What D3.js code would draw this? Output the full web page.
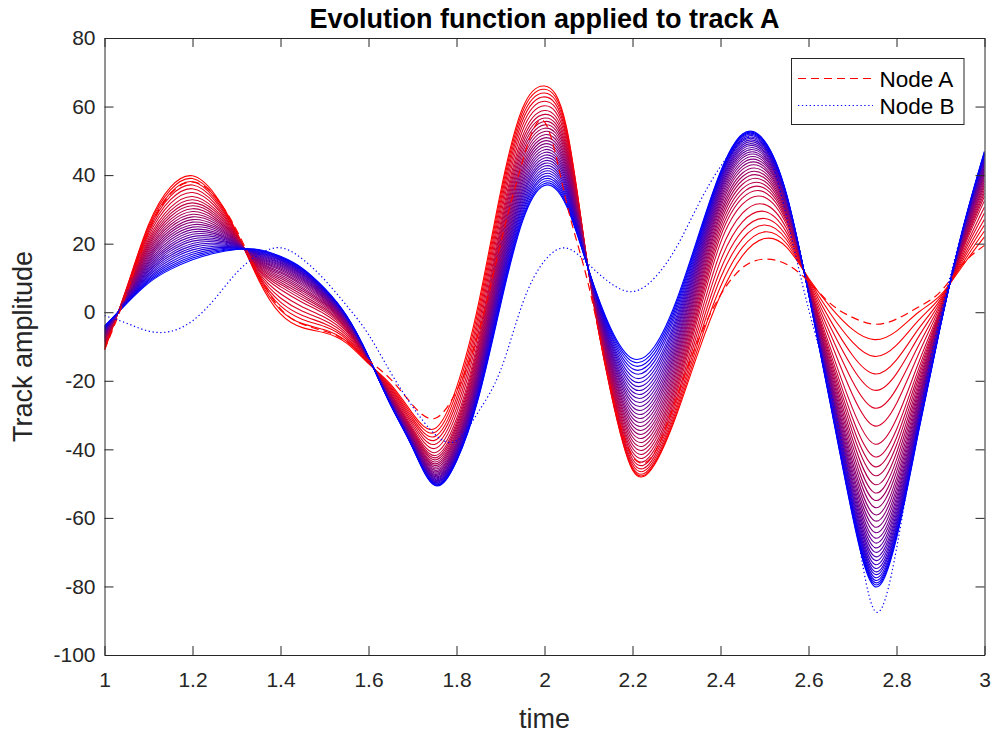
<!DOCTYPE html>
<html>
<head>
<meta charset="utf-8">
<script src="https://cdn.jsdelivr.net/npm/d3@7"></script>
<style>
  body { margin: 0; background: #fff; }
  svg text { font-family: "Liberation Sans", Arial, Helvetica, sans-serif; }
</style>
</head>
<body>
<div id="chart"></div>
<script>
// sample times shared by every track
const time = [1.00, 1.05, 1.10, 1.15, 1.20, 1.25, 1.30, 1.35, 1.40, 1.45,
              1.50, 1.55, 1.60, 1.65, 1.70, 1.75, 1.80, 1.85, 1.90, 1.95,
              2.00, 2.05, 2.10, 2.15, 2.20, 2.25, 2.30, 2.35, 2.40, 2.45,
              2.50, 2.55, 2.60, 2.65, 2.70, 2.75, 2.80, 2.85, 2.90, 2.95, 3.00];

// Node A (dashed red)
const nodeA = [-11, 5.5, 23.5, 34.5, 38, 34, 24, 11, 1, -3.5,
               -5.5, -8.5, -14, -19.5, -27, -31, -23, -6, 20, 44,
               55.5, 32, 8, -22, -42, -41, -25, -8, 5, 13,
               15.5, 14, 9, 2.5, -1.5, -3.5, -2, 1.5, 6, 14, 19.5];

// Node B (dotted blue)
const nodeB = [-1, -3.2, -5.5, -5.6, -2.5, 3.8, 11.5, 16.8, 18.8, 15.5,
               9.5, 2, -6.5, -17.5, -27.5, -35.5, -37.5, -29, -17, 2.5,
               15, 18.7, 14, 8.5, 6, 10, 19, 31.5, 42.5, 50,
               49, 28, 1, -23, -55.5, -87, -69, -32, -1, 24, 46];

// first (red) and last (blue) curve of the evolution
const evolutionStart = [-11, 7, 25.5, 36.5, 39.8, 34.5, 23.5, 9.5, -0.5, -4.5,
                        -6, -9, -15, -21, -29.5, -34, -22, 2.5, 35, 59.5,
                        66, 54, 12, -23, -46, -44.5, -30, -11.5, 5, 16.5,
                        21.5, 19, 10, 1.5, -5, -8, -5.5, 0, 5, 13.5, 22];
const evolutionEnd = [-4, 2.5, 8.5, 12.5, 15.3, 17.2, 18.3, 18.3, 16.3, 12.8,
                      7, -1, -13, -27, -39.5, -50.5, -43.5, -25, 2, 26.5,
                      37, 31, 12.5, -4.5, -13.5, -10, 3.5, 22.5, 41, 52,
                      50, 34.5, 5.5, -27, -59.5, -80, -66, -35, -4, 24, 47];

// level of each evolution step at the t = 2.75 trough (fast start)
const evolutionDepth = [-7.9, -12.8, -17.9, -22.7, -27.9, -33.1, -38.4, -42.1, -45.0, -47.6,
                        -50.2, -52.6, -54.8, -56.9, -59.0, -60.8, -62.6, -64.2, -65.8, -67.2,
                        -68.6, -69.9, -71.2, -72.3, -73.5, -74.6, -75.6, -76.4, -77.3, -78.1,
                        -78.8, -79.4, -80.0];
// level of each evolution step at the t = 2.2 trough (slow start)
const evolutionTrough = [-46.0, -45.7, -45.2, -44.5, -43.7, -42.8, -41.8, -40.8, -39.7, -38.6,
                         -37.5, -36.4, -35.3, -34.2, -33.1, -32.0, -30.9, -29.8, -28.7, -27.6,
                         -26.5, -25.4, -24.3, -23.2, -22.1, -21.0, -19.9, -18.8, -17.6, -16.5,
                         -15.4, -14.4, -13.5];
// which of the two step patterns each sample time follows (0 = fast, 1 = slow)
const stepPattern = [0.5, 0.5, 0.6, 0.6, 0.6, 0.6, 0.6, 0.4, 0, 0,
                     0, 0, 0, 0, 0, 0, 0, 0.2, 0.5, 0.6,
                     0.6, 0.7, 0.8, 1, 1, 1, 0.8, 0.4, 0, 0,
                     0, 0, 0, 0, 0, 0, 0, 0, 0, 0, 0];

const xTicks = [1, 1.2, 1.4, 1.6, 1.8, 2, 2.2, 2.4, 2.6, 2.8, 3];
const xTickLabels = ['1', '1.2', '1.4', '1.6', '1.8', '2', '2.2', '2.4', '2.6', '2.8', '3'];
const yTicks = [-100, -80, -60, -40, -20, 0, 20, 40, 60, 80];

const width = 992, height = 736;
const plot = { left: 104.5, right: 984.5, top: 38, bottom: 655 };
const axisColor = '#262626';

const svg = d3.select('#chart').append('svg')
    .attr('width', width)
    .attr('height', height);

const x = d3.scaleLinear().domain([1, 3]).range([plot.left, plot.right]);
const y = d3.scaleLinear().domain([-100, 80]).range([plot.bottom, plot.top]);

svg.append('defs').append('clipPath').attr('id', 'clip')
    .append('rect')
    .attr('x', plot.left).attr('y', plot.top)
    .attr('width', plot.right - plot.left)
    .attr('height', plot.bottom - plot.top);

const line = d3.line()
    .x(d => x(d[0]))
    .y(d => y(d[1]))
    .curve(d3.curveNatural);

// evolution curves, red -> blue
const n = evolutionDepth.length;
const fast = evolutionDepth.map(m => (m - evolutionDepth[0]) / (evolutionDepth[n - 1] - evolutionDepth[0]));
const slow = evolutionTrough.map(m => (m - evolutionTrough[0]) / (evolutionTrough[n - 1] - evolutionTrough[0]));
const color = d3.interpolateRgb('#ff0000', '#0000ff');
const family = d3.range(n).map(k => ({
    c: color(k / (n - 1)),
    pts: time.map((t, i) => {
        const w = (1 - stepPattern[i]) * fast[k] + stepPattern[i] * slow[k];
        return [t, (1 - w) * evolutionStart[i] + w * evolutionEnd[i]];
    })
}));

const curves = svg.append('g').attr('clip-path', 'url(#clip)');

curves.selectAll('path.evo')
    .data(family)
    .join('path')
    .attr('class', 'evo')
    .attr('fill', 'none')
    .attr('stroke', d => d.c)
    .attr('stroke-width', 1.1)
    .attr('d', d => line(d.pts));

curves.append('path')
    .attr('fill', 'none')
    .attr('stroke', '#ff0000')
    .attr('stroke-width', 1.2)
    .attr('stroke-dasharray', '8,5')
    .attr('d', line(time.map((t, i) => [t, nodeA[i]])));

curves.append('path')
    .attr('fill', 'none')
    .attr('stroke', '#0000ff')
    .attr('stroke-width', 1.2)
    .attr('stroke-dasharray', '1.3,2.6')
    .attr('d', line(time.map((t, i) => [t, nodeB[i]])));

// axes, ticks pointing inward on all four sides
const styleAxis = g => {
    g.selectAll('path.domain').attr('stroke', axisColor).attr('stroke-width', 1);
    g.selectAll('.tick line').attr('stroke', axisColor).attr('stroke-width', 1);
    g.selectAll('.tick text').attr('fill', axisColor).style('font-size', '21px');
};

svg.append('g')
    .attr('transform', `translate(0,${plot.bottom})`)
    .call(d3.axisBottom(x).tickValues(xTicks)
        .tickFormat((d, i) => xTickLabels[i])
        .tickSizeInner(-9).tickSizeOuter(0).tickPadding(17))
    .call(styleAxis);

svg.append('g')
    .attr('transform', `translate(0,${plot.top})`)
    .call(d3.axisTop(x).tickValues(xTicks).tickFormat('')
        .tickSizeInner(-9).tickSizeOuter(0))
    .call(styleAxis);

svg.append('g')
    .attr('transform', `translate(${plot.left},0)`)
    .call(d3.axisLeft(y).tickValues(yTicks)
        .tickFormat(d => String(d))
        .tickSizeInner(-9).tickSizeOuter(0).tickPadding(9))
    .call(styleAxis);

svg.append('g')
    .attr('transform', `translate(${plot.right},0)`)
    .call(d3.axisRight(y).tickValues(yTicks).tickFormat('')
        .tickSizeInner(-9).tickSizeOuter(0))
    .call(styleAxis);

// title and labels
svg.append('text')
    .attr('x', (plot.left + plot.right) / 2)
    .attr('y', 28)
    .attr('text-anchor', 'middle')
    .style('font-size', '27px')
    .style('font-weight', 'bold')
    .attr('fill', '#000')
    .text('Evolution function applied to track A');

svg.append('text')
    .attr('x', (plot.left + plot.right) / 2)
    .attr('y', 728)
    .attr('text-anchor', 'middle')
    .style('font-size', '27px')
    .attr('fill', axisColor)
    .text('time');

svg.append('text')
    .attr('transform', `translate(32,${(plot.top + plot.bottom) / 2}) rotate(-90)`)
    .attr('text-anchor', 'middle')
    .style('font-size', '27px')
    .attr('fill', axisColor)
    .text('Track amplitude');

// legend
const legend = svg.append('g').attr('transform', 'translate(791.5,58.5)');
legend.append('rect')
    .attr('width', 172.5).attr('height', 66)
    .attr('fill', '#fff')
    .attr('stroke', axisColor).attr('stroke-width', 1);

const legendItems = [
    { name: 'Node A', stroke: '#ff0000', dash: '8,5', y: 20 },
    { name: 'Node B', stroke: '#0000ff', dash: '1.3,2.6', y: 47 }
];
legendItems.forEach(item => {
    legend.append('line')
        .attr('x1', 6.5).attr('x2', 81.5)
        .attr('y1', item.y).attr('y2', item.y)
        .attr('stroke', item.stroke).attr('stroke-width', 1.2)
        .attr('stroke-dasharray', item.dash);
    legend.append('text')
        .attr('x', 88).attr('y', item.y + 8)
        .style('font-size', '22.5px')
        .attr('fill', '#000')
        .text(item.name);
});
</script>
</body>
</html>
